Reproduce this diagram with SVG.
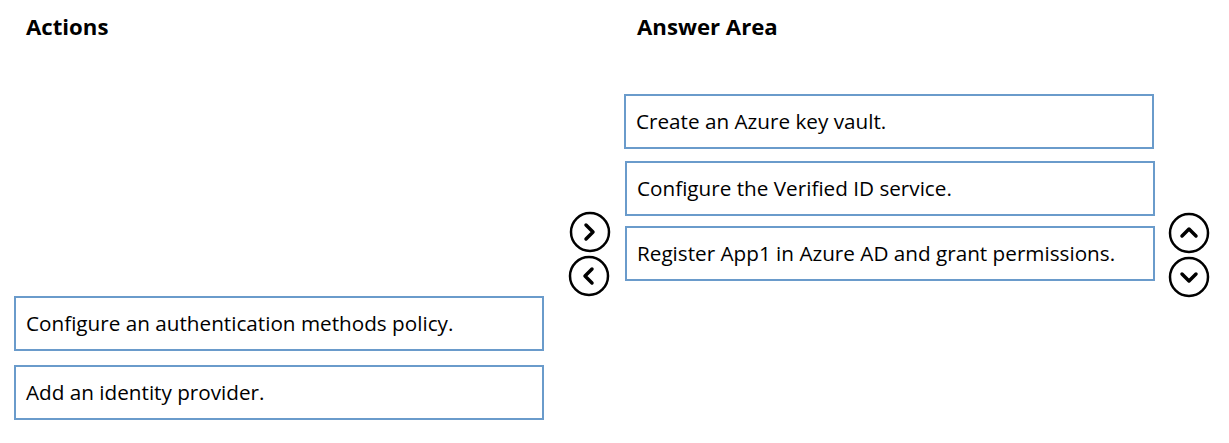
<svg xmlns="http://www.w3.org/2000/svg" width="1229" height="443" viewBox="0 0 1229 443">
<style>
.h{font-family:"Open Sans","Liberation Sans",sans-serif;font-weight:bold;font-size:22.2px;fill:#000}
.t{font-family:"Open Sans","Liberation Sans",sans-serif;font-size:20.7px;fill:#000}
.box{fill:#fff;stroke:#6a9bcb;stroke-width:2}
.c{fill:#fff;stroke:#000;stroke-width:2.5}
.ch{fill:none;stroke:#000;stroke-width:3.5;stroke-linecap:round;stroke-linejoin:round}
</style>
<rect width="1229" height="443" fill="#fff"/>
<text class="h" x="26" y="35">Actions</text>
<text class="h" x="637" y="35">Answer Area</text>
<g id="a1"><rect class="box" x="625" y="95" width="528" height="53"/><text class="t" x="636" y="129">Create an Azure key vault.</text></g>
<g id="a2"><rect class="box" x="626" y="162" width="528" height="53"/><text class="t" x="637" y="196">Configure the Verified ID service.</text></g>
<g id="a3"><rect class="box" x="626" y="227" width="528" height="53"/><text class="t" x="637" y="261">Register App1 in Azure AD and grant permissions.</text></g>
<g id="l1"><rect class="box" x="15" y="297" width="528" height="53"/><text class="t" x="26" y="331">Configure an authentication methods policy.</text></g>
<g id="l2"><rect class="box" x="15" y="366" width="528" height="53"/><text class="t" x="26" y="400">Add an identity provider.</text></g>
<g id="btn-right"><circle class="c" cx="590" cy="232" r="19"/><path class="ch" d="M586,225 L593,232 L586,239"/></g>
<g id="btn-left"><circle class="c" cx="589" cy="276" r="19"/><path class="ch" d="M592,269 L585,276 L592,283"/></g>
<g id="btn-up"><circle class="c" cx="1189" cy="233" r="19"/><path class="ch" d="M1182,236 L1189,229 L1196,236"/></g>
<g id="btn-down"><circle class="c" cx="1189" cy="277" r="19"/><path class="ch" d="M1182,274 L1189,281 L1196,274"/></g>
<g id="connectors"></g>
</svg>
